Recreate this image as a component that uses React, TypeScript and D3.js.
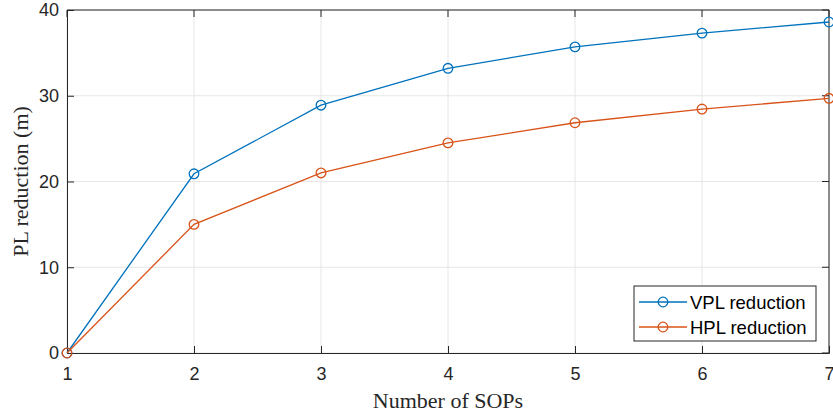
import React, { useEffect, useRef } from "react";
import * as d3 from "d3";

const sops = [1, 2, 3, 4, 5, 6, 7];
const vplReduction = [0, 20.9, 28.9, 33.2, 35.7, 37.3, 38.6];
const hplReduction = [0, 15.0, 21.0, 24.5, 26.85, 28.45, 29.7];
const yTicks = [0, 10, 20, 30, 40];

const series = [
  { name: "VPL reduction", values: vplReduction, color: "#0072BD" },
  { name: "HPL reduction", values: hplReduction, color: "#D95319" },
];

const App = () => {
  const svgRef = useRef<SVGSVGElement>(null);

  useEffect(() => {
    const width = 833;
    const height = 414;
    const margin = { top: 10, right: 4, bottom: 61, left: 67 };

    const svg = d3.select(svgRef.current).attr("width", width).attr("height", height);
    svg.selectAll("*").remove();

    const x = d3.scaleLinear().domain([1, 7]).range([margin.left, width - margin.right]);
    const y = d3.scaleLinear().domain([0, 40]).range([height - margin.bottom, margin.top]);
    const x0 = margin.left, x1 = width - margin.right, y0 = height - margin.bottom, y1 = margin.top;

    // grid
    svg.append("g")
      .selectAll("line")
      .data(sops)
      .join("line")
      .attr("x1", d => x(d)).attr("x2", d => x(d))
      .attr("y1", y0).attr("y2", y1)
      .attr("stroke", "#e6e6e6").attr("stroke-width", 1);
    svg.append("g")
      .selectAll("line")
      .data(yTicks)
      .join("line")
      .attr("x1", x0).attr("x2", x1)
      .attr("y1", d => y(d)).attr("y2", d => y(d))
      .attr("stroke", "#e6e6e6").attr("stroke-width", 1);

    // axes (ticks inward)
    const axisColor = "#262626";
    const font = "'Liberation Sans', Arial, sans-serif";
    const serif = "'Liberation Serif', 'Times New Roman', serif";

    const xAxis = svg.append("g")
      .attr("transform", `translate(0,${y0})`)
      .call(d3.axisBottom(x).tickValues(sops).tickSize(-7).tickPadding(14).tickFormat(d3.format("d")));
    const yAxis = svg.append("g")
      .attr("transform", `translate(${x0},0)`)
      .call(d3.axisLeft(y).tickValues(yTicks).tickSize(-7).tickPadding(8));
    [xAxis, yAxis].forEach(g => {
      g.select(".domain").attr("stroke", axisColor);
      g.selectAll(".tick line").attr("stroke", axisColor);
      g.selectAll(".tick text")
        .attr("fill", axisColor)
        .style("font-family", font)
        .style("font-size", "18px");
    });

    // box top/right
    svg.append("path")
      .attr("d", `M${x0},${y1}H${x1}V${y0}`)
      .attr("fill", "none").attr("stroke", axisColor);
    svg.append("g").selectAll("line")
      .data(yTicks).join("line")
      .attr("x1", x1).attr("x2", x1 - 7)
      .attr("y1", d => y(d)).attr("y2", d => y(d))
      .attr("stroke", axisColor);
    svg.append("g").selectAll("line")
      .data(sops).join("line")
      .attr("x1", d => x(d)).attr("x2", d => x(d))
      .attr("y1", y1).attr("y2", y1 + 7)
      .attr("stroke", axisColor);

    const line = d3.line<number>()
      .x((_, i) => x(sops[i]))
      .y(d => y(d));

    series.forEach(s => {
      svg.append("path")
        .datum(s.values)
        .attr("fill", "none")
        .attr("stroke", s.color)
        .attr("stroke-width", 1.3)
        .attr("d", line);
      svg.append("g").selectAll("circle")
        .data(s.values).join("circle")
        .attr("cx", (_, i) => x(sops[i]))
        .attr("cy", d => y(d))
        .attr("r", 4.8)
        .attr("fill", "none")
        .attr("stroke", s.color)
        .attr("stroke-width", 1.3);
    });

    // labels
    svg.append("text")
      .attr("x", (x0 + x1) / 2)
      .attr("y", 408)
      .attr("text-anchor", "middle")
      .style("font-family", serif)
      .style("font-size", "22px")
      .attr("fill", axisColor)
      .text("Number of SOPs");
    svg.append("text")
      .attr("transform", `translate(28,${(y0 + y1) / 2}) rotate(-90)`)
      .attr("text-anchor", "middle")
      .style("font-family", serif)
      .style("font-size", "22px")
      .attr("fill", axisColor)
      .text("PL reduction (m)");

    // legend
    const lg = svg.append("g").attr("transform", "translate(634,286)");
    lg.append("rect")
      .attr("width", 182).attr("height", 55)
      .attr("fill", "white").attr("stroke", axisColor).attr("stroke-width", 1);
    series.forEach((s, i) => {
      const cy = 16 + i * 25;
      lg.append("line")
        .attr("x1", 5).attr("x2", 53)
        .attr("y1", cy).attr("y2", cy)
        .attr("stroke", s.color).attr("stroke-width", 1.3);
      lg.append("circle")
        .attr("cx", 29).attr("cy", cy).attr("r", 4.8)
        .attr("fill", "none").attr("stroke", s.color).attr("stroke-width", 1.3);
      lg.append("text")
        .attr("x", 56).attr("y", cy + 6.5)
        .style("font-family", font)
        .style("font-size", "18.5px")
        .attr("fill", "#000")
        .text(s.name);
    });
  }, []);

  return <svg ref={svgRef} style={{ position: "absolute", left: 0, top: 0 }}></svg>;
};

export default App;
